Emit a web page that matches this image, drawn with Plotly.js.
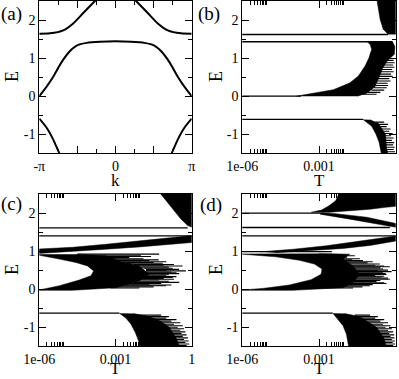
<!DOCTYPE html>
<html>
<head>
<meta charset="utf-8">
<script src="https://cdn.plot.ly/plotly-3.0.1.min.js"></script>
<style>
  html, body { margin: 0; padding: 0; background: #fff; }
  #chart { width: 399px; height: 379px; }
</style>
</head>
<body>
<div id="chart"></div>
<script>
// ===== (a) band structure E(k), k in units of pi =====
const aMidK = [-1, -0.904, -0.817, -0.75, -0.686, -0.6, -0.51, -0.38, -0.2, 0, 0.2, 0.38, 0.51, 0.6, 0.686, 0.75, 0.817, 0.904, 1];
const aMidE = [0, 0.25, 0.51, 0.75, 0.96, 1.18, 1.33, 1.40, 1.43, 1.44, 1.43, 1.40, 1.33, 1.18, 0.96, 0.75, 0.51, 0.25, 0];
const aTopLeftK = [-1, -0.86, -0.686, -0.555, -0.42, -0.27, -0.22];
const aTopLeftE = [1.64, 1.65, 1.73, 1.91, 2.19, 2.5, 2.6];
const aTopRightK = [0.22, 0.27, 0.42, 0.555, 0.686, 0.86, 1];
const aTopRightE = [2.6, 2.5, 2.19, 1.91, 1.73, 1.65, 1.64];
const aBotLeftK = [-1, -0.904, -0.817, -0.74, -0.7];
const aBotLeftE = [-0.59, -0.83, -1.14, -1.49, -1.65];
const aBotRightK = [0.7, 0.74, 0.817, 0.904, 1];
const aBotRightE = [-1.65, -1.49, -1.14, -0.83, -0.59];

// ===== (b) E vs T, T given as log10 =====
const bLineE = [1.62, 1.43, 0.0, -0.61];
const bLineEnd = [-0.3, -0.12, -3.7, -1.28];
const bTopT = [-0.74, -0.68, -0.61, -0.49, -0.36, -0.3, 0.05, 0.05];
const bTopE = [2.55, 2.28, 2.02, 1.76, 1.67, 1.63, 1.63, 2.55];
const bMidT = [-3.9, -3.22, -2.44, -1.79, -1.46, -1.2, -1.05, -0.94, -1.0, -1.1, -0.12, -0.03, -0.05, -0.3, -0.5, -0.65, -0.81, -1.13, -1.5];
const bMidE = [0.0, 0.07, 0.17, 0.35, 0.53, 0.79, 1.0, 1.23, 1.36, 1.42, 1.42, 1.3, 1.1, 0.95, 0.75, 0.5, 0.25, 0.08, 0.0];
const bMidHairE = [0.05, 0.1, 0.16, 0.22, 0.28, 0.34, 0.4, 0.46, 0.52, 0.58, 0.64, 0.7, 0.76, 0.82, 0.88, 0.94];
const bMidHairFrom = [-1.3, -1.1, -0.95, -0.85, -0.8, -0.75, -0.72, -0.7, -0.66, -0.62, -0.6, -0.56, -0.52, -0.48, -0.42, -0.38];
const bMidHairTo = [-0.75, -0.6, -0.45, -0.35, -0.3, -0.32, -0.2, -0.25, -0.12, -0.18, -0.08, -0.14, -0.05, -0.1, -0.04, -0.08];
const bBotT = [-1.28, -0.94, -0.77, -0.65, -0.55, -0.3, -0.36, -0.4, -0.67, -1.0];
const bBotE = [-0.61, -0.79, -1.0, -1.21, -1.55, -1.55, -1.35, -1.0, -0.72, -0.62];
const bBotHairE = [-0.68, -0.74, -0.8, -0.86, -0.92, -0.98, -1.04, -1.1, -1.16, -1.22, -1.28, -1.34, -1.4, -1.46];
const bBotHairFrom = [-0.8, -0.7, -0.65, -0.6, -0.55, -0.5, -0.48, -0.46, -0.44, -0.42, -0.4, -0.38, -0.36, -0.34];
const bBotHairTo = [-0.45, -0.3, -0.35, -0.2, -0.25, -0.12, -0.18, -0.08, -0.15, -0.06, -0.1, -0.04, -0.08, -0.03];

// ===== (c) =====
const cLineE = [1.61, 1.40, -0.63];
const cLineEnd = [-0.16, 0.05, -2.85];
const cTopT = [-1.28, -1.01, -0.69, -0.42, -0.16, 0.05, 0.05];
const cTopE = [2.55, 2.32, 2.06, 1.84, 1.67, 1.62, 2.55];
const cWedgeT = [-6.5, -4.69, -3.38, -2.06, -0.75, 0.05, 0.05, -0.75, -2.06, -3.38, -4.69, -6.5];
const cWedgeE = [1.04, 1.10, 1.18, 1.27, 1.36, 1.41, 1.23, 1.18, 1.11, 1.05, 0.99, 0.92];
const cMidT = [-6.5, -6, -5.21, -4.56, -4.10, -3.86, -3.97, -4.43, -5.21, -6, -6.5, -4.69, -2.98, -2.06, -1.67, -2.06, -2.85, -3.38, -4.5];
const cMidE = [0.92, 0.89, 0.79, 0.70, 0.61, 0.48, 0.35, 0.24, 0.09, -0.02, -0.03, -0.03, 0.04, 0.22, 0.39, 0.61, 0.75, 0.88, 0.92];
const cMidHairE = [0.92, 0.89, 0.86, 0.83, 0.80, 0.77, 0.75, 0.72, 0.70, 0.68, 0.65, 0.63, 0.61, 0.58, 0.55, 0.52, 0.50, 0.48, 0.45, 0.43, 0.41, 0.38, 0.35, 0.33, 0.31, 0.28, 0.26, 0.24, 0.21, 0.18, 0.15, 0.13, 0.11, 0.09, 0.06, 0.03];
const cMidHairFrom = [-4.5, -4.0, -3.6, -3.4, -3.2, -3.0, -2.9, -2.7, -2.6, -2.5, -2.3, -2.2, -2.1, -2.0, -1.9, -1.8, -1.8, -1.8, -1.8, -1.8, -1.8, -1.8, -1.8, -1.9, -1.9, -2.0, -2.0, -2.1, -2.2, -2.3, -2.5, -2.6, -2.7, -2.9, -3.0, -3.2];
const cMidHairTo = [-1.28, -2.0, -1.6, -2.46, -1.9, -1.3, -1.67, -1.0, -1.5, -1.14, -0.7, -1.1, -0.36, -0.9, -0.75, -0.5, -1.0, -0.23, -0.8, -0.6, -0.49, -0.9, -1.01, -0.6, -0.75, -1.1, -0.7, -1.28, -0.9, -0.49, -1.2, -1.67, -0.8, -1.01, -1.5, -2.06];
const cBotT = [-2.85, -2.59, -2.39, -2.22, -2.09, -2.0, -0.45, -0.6, -0.88, -1.2, -1.67, -2.3];
const cBotE = [-0.63, -0.76, -0.92, -1.14, -1.36, -1.55, -1.55, -1.3, -1.0, -0.85, -0.72, -0.64];
const cBotHairE = [-0.68, -0.72, -0.76, -0.8, -0.84, -0.88, -0.92, -0.96, -1.0, -1.04, -1.08, -1.12, -1.16, -1.2, -1.24, -1.28, -1.32, -1.36, -1.4, -1.44, -1.48];
const cBotHairFrom = [-2.2, -2.1, -2.0, -1.9, -1.8, -1.7, -1.6, -1.5, -1.4, -1.35, -1.3, -1.25, -1.2, -1.15, -1.1, -1.05, -1.0, -0.95, -0.9, -0.85, -0.8];
const cBotHairTo = [-1.2, -0.9, -1.0, -0.6, -0.8, -0.45, -0.7, -0.35, -0.55, -0.3, -0.45, -0.25, -0.4, -0.2, -0.35, -0.15, -0.3, -0.12, -0.25, -0.1, -0.2];

// ===== (d) =====
const dLineE = [2.0, 1.62, 1.40, 0.985, -0.63];
const dLineEnd = [-2.9, -0.23, 0.05, -2.5, -2.46];
const dTopT = [-2.22, -2.22, -2.35, -2.61, -2.9, -3.3, -2.6, -1.8, -1.0, -0.4, 0.05, 0.05];
const dTopE = [2.55, 2.5, 2.32, 2.19, 2.08, 2.02, 2.02, 2.06, 2.1, 2.15, 2.18, 2.55];
const dWedgeT = [-2.9, -2.44, -1.13, -0.03, 0.05, 0.05, -0.49, -1.79, -2.96];
const dWedgeE = [2.01, 1.99, 1.89, 1.73, 1.72, 1.62, 1.69, 1.84, 1.97];
const dWedge2T = [-5.3, -4.0, -2.72, -1.4, 0.05, 0.05, -1.0, -2.06, -3.4, -4.69];
const dWedge2E = [0.98, 1.05, 1.14, 1.26, 1.40, 1.27, 1.15, 1.07, 1.01, 0.96];
const dMidT = [-6.5, -6, -4.69, -3.77, -3.18, -2.88, -2.92, -3.31, -4.16, -5.21, -6, -6.5, -4.03, -2.06, -1.67, -1.41, -1.67, -2.06, -1.8, -3.0];
const dMidE = [0.93, 0.92, 0.85, 0.76, 0.66, 0.53, 0.39, 0.25, 0.11, 0.02, -0.02, -0.03, -0.03, 0.04, 0.17, 0.39, 0.61, 0.79, 0.92, 0.94];
const dMidHairE = [0.88, 0.84, 0.8, 0.77, 0.75, 0.72, 0.69, 0.66, 0.63, 0.61, 0.59, 0.56, 0.53, 0.5, 0.48, 0.46, 0.43, 0.41, 0.39, 0.36, 0.34, 0.32, 0.29, 0.26, 0.23, 0.2, 0.17, 0.15, 0.12, 0.09, 0.06, 0.03];
const dMidHairFrom = [-2.4, -2.4, -2.3, -2.3, -2.2, -2.2, -2.1, -2.1, -2.0, -2.0, -2.0, -2.0, -2.0, -2.0, -2.0, -2.0, -2.0, -2.0, -2.0, -2.0, -2.0, -2.0, -2.1, -2.1, -2.2, -2.2, -2.3, -2.4, -2.5, -2.6, -2.8, -3.0];
const dMidHairTo = [-1.6, -1.9, -1.4, -1.7, -1.28, -0.9, -1.1, -0.62, -0.8, -0.45, -0.23, -0.6, -0.49, -0.3, -0.7, -0.16, -0.5, -0.4, -0.36, -0.8, -0.45, -0.55, -0.3, -0.23, -0.6, -0.75, -0.45, -0.36, -0.9, -1.01, -1.3, -1.67];
const dBotT = [-2.46, -2.26, -2.06, -1.93, -1.83, -0.35, -0.45, -0.75, -1.1, -1.41, -2.0];
const dBotE = [-0.63, -0.79, -0.96, -1.18, -1.55, -1.55, -1.3, -1.0, -0.85, -0.72, -0.64];
const dBotHairE = [-0.68, -0.72, -0.76, -0.8, -0.84, -0.88, -0.92, -0.96, -1.0, -1.04, -1.08, -1.12, -1.16, -1.2, -1.24, -1.28, -1.32, -1.36, -1.4, -1.44, -1.48];
const dBotHairFrom = [-1.6, -1.5, -1.4, -1.3, -1.2, -1.1, -1.0, -0.95, -0.9, -0.85, -0.8, -0.75, -0.7, -0.68, -0.66, -0.64, -0.62, -0.6, -0.58, -0.56, -0.54];
const dBotHairTo = [-1.0, -0.7, -0.8, -0.45, -0.6, -0.3, -0.5, -0.2, -0.4, -0.15, -0.3, -0.1, -0.25, -0.06, -0.2, -0.05, -0.15, -0.03, -0.12, -0.02, -0.1];

// ticks
const kTickVals = [-1, -0.5, 0, 0.5, 1];
const kTickText = ['-\u03c0', '', '0', '', '\u03c0'];
const kMinor = [-0.75, -0.25, 0.25, 0.75];
const tTickVals = [1e-6, 1e-3, 1];
const tTickText = ['1e-06', '0.001', '1'];
const tMinor = [2e-6, 3e-6, 4e-6, 5e-6, 6e-6, 7e-6, 8e-6, 9e-6, 2e-3, 3e-3, 4e-3, 5e-3, 6e-3, 7e-3, 8e-3, 9e-3];
const eTickVals = [-1, 0, 1, 2];
const eTickText = ['-1', '0', '1', '2'];
const eMinor = [-0.5, 0.5, 1.5];

// ==================== helpers ====================
const W = 399, H = 379;
const FONT = "Liberation Serif, Times New Roman, serif";
const T_OFF = 1e-8; // below the plotted T range, lines start off the left edge
const pow10 = v => Math.pow(10, v);

function curve(k, E) {
  return { x: k, y: E, xaxis: 'x', yaxis: 'y', mode: 'lines',
    line: { color: '#000', width: 2, shape: 'spline', smoothing: 0.8 },
    hoverinfo: 'skip', showlegend: false };
}

function blob(logT, E, n) {
  return { x: logT.map(pow10), y: E, xaxis: 'x' + n, yaxis: 'y' + n, mode: 'lines',
    fill: 'toself', fillcolor: '#000', line: { color: '#000', width: 0.5 },
    hoverinfo: 'skip', showlegend: false };
}

function segments(E, from, to, n, width) {
  const x = [], y = [];
  E.forEach((e, i) => {
    x.push(from[i], to[i], null);
    y.push(e, e, null);
  });
  return { x, y, xaxis: 'x' + n, yaxis: 'y' + n, mode: 'lines',
    line: { color: '#000', width: width }, hoverinfo: 'skip', showlegend: false };
}

function edgeLines(E, endLog, n) {
  return segments(E, E.map(() => T_OFF), endLog.map(pow10), n, 1.3);
}

function hairs(E, from, to, n) {
  return segments(E, from.map(pow10), to.map(pow10), n, 1.1);
}

function axis(extra) {
  return Object.assign({
    showline: true, linecolor: '#000', linewidth: 1, mirror: 'ticks',
    ticks: 'inside', ticklen: 7, tickwidth: 1, tickcolor: '#000',
    showgrid: false, zeroline: false, fixedrange: true, tickmode: 'array',
    tickfont: { family: FONT, size: 14, color: '#000' }
  }, extra);
}
function minor(vals) {
  return { tickmode: 'array', tickvals: vals, ticks: 'inside', ticklen: 4, tickwidth: 1, tickcolor: '#000', showgrid: false };
}

const colL = [39.3 / W, 191.7 / W];
const colR = [242.3 / W, 395.7 / W];
const rowT = [(H - 153.3) / H, (H - 1) / H];
const rowB = [(H - 346.3) / H, (H - 194) / H];

const kAxis = d => axis({ domain: d, range: [-1, 1], tickvals: kTickVals, ticktext: kTickText, minor: minor(kMinor) });
const tAxis = d => axis({ domain: d, type: 'log', range: [-6, 0], tickvals: tTickVals, ticktext: tTickText, minor: minor(tMinor) });
const eAxis = d => axis({ domain: d, range: [-1.5, 2.5], tickvals: eTickVals, ticktext: eTickText, minor: minor(eMinor) });

// ==================== traces ====================
const traces = [
  curve(aMidK, aMidE), curve(aTopLeftK, aTopLeftE), curve(aTopRightK, aTopRightE),
  curve(aBotLeftK, aBotLeftE), curve(aBotRightK, aBotRightE),

  blob(bTopT, bTopE, 2), blob(bMidT, bMidE, 2), blob(bBotT, bBotE, 2),
  hairs(bMidHairE, bMidHairFrom, bMidHairTo, 2), hairs(bBotHairE, bBotHairFrom, bBotHairTo, 2),
  edgeLines(bLineE, bLineEnd, 2),

  blob(cTopT, cTopE, 3), blob(cWedgeT, cWedgeE, 3), blob(cMidT, cMidE, 3), blob(cBotT, cBotE, 3),
  hairs(cMidHairE, cMidHairFrom, cMidHairTo, 3), hairs(cBotHairE, cBotHairFrom, cBotHairTo, 3),
  edgeLines(cLineE, cLineEnd, 3),

  blob(dTopT, dTopE, 4), blob(dWedgeT, dWedgeE, 4), blob(dWedge2T, dWedge2E, 4),
  blob(dMidT, dMidE, 4), blob(dBotT, dBotE, 4),
  hairs(dMidHairE, dMidHairFrom, dMidHairTo, 4), hairs(dBotHairE, dBotHairFrom, dBotHairTo, 4),
  edgeLines(dLineE, dLineEnd, 4)
];

// ==================== text ====================
function label(text, x, y, size, opts) {
  return Object.assign({ text: text, x: x / W, y: 1 - y / H, xref: 'paper', yref: 'paper',
    xanchor: 'center', yanchor: 'middle', showarrow: false, borderpad: 0,
    font: { family: FONT, size: size, color: '#000' } }, opts || {});
}
const rot = { textangle: -90 };
const base = { yanchor: 'bottom' };
const annotations = [
  label('(a)', 11.5, 14, 19), label('(b)', 209, 14, 19),
  label('(c)', 11.5, 204, 19), label('(d)', 211, 205, 19),
  label('E', 12, 77, 18, rot), label('E', 216, 77, 18, rot),
  label('E', 12, 270, 18, rot), label('E', 216, 270, 18, rot),
  label('k', 115.5, 191, 17, base), label('T', 319, 191, 17, base),
  label('T', 115.5, 379, 17, base), label('T', 319, 379, 17, base)
];

const layout = {
  width: W, height: H,
  margin: { l: 0, r: 0, t: 0, b: 0 },
  paper_bgcolor: '#fff', plot_bgcolor: '#fff',
  showlegend: false,
  font: { family: FONT, color: '#000' },
  xaxis: Object.assign(kAxis(colL), { anchor: 'y' }),
  yaxis: Object.assign(eAxis(rowT), { anchor: 'x' }),
  xaxis2: Object.assign(tAxis(colR), { anchor: 'y2' }),
  yaxis2: Object.assign(eAxis(rowT), { anchor: 'x2' }),
  xaxis3: Object.assign(tAxis(colL), { anchor: 'y3' }),
  yaxis3: Object.assign(eAxis(rowB), { anchor: 'x3' }),
  xaxis4: Object.assign(tAxis(colR), { anchor: 'y4' }),
  yaxis4: Object.assign(eAxis(rowB), { anchor: 'x4' }),
  annotations: annotations
};

Plotly.newPlot('chart', traces, layout, { staticPlot: true, displayModeBar: false });
</script>
</body>
</html>
